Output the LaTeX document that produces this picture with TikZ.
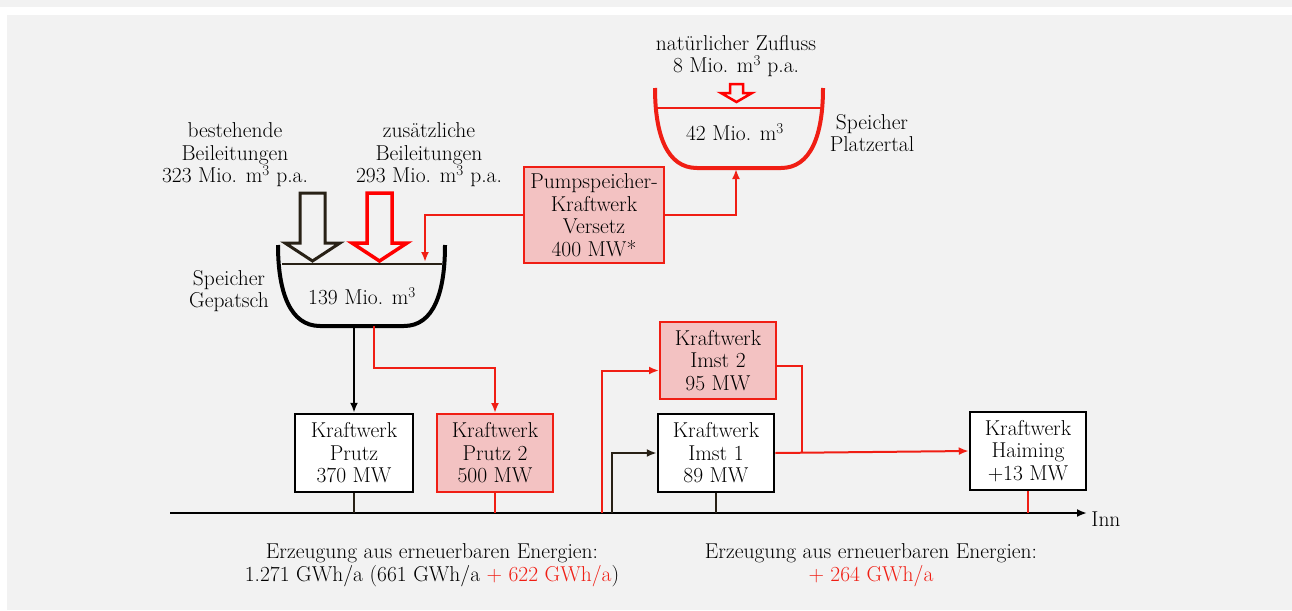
\documentclass[tikz,border=0pt]{standalone}
\usepackage{tikz}
\usetikzlibrary{arrows.meta, positioning}
\definecolor{rot}{RGB}{240,30,20}
\definecolor{rosa}{RGB}{243,194,194}
\definecolor{dunkel}{RGB}{40,33,22}
\definecolor{hgrau}{RGB}{242,242,242}

\begin{document}
\begin{tikzpicture}[x=1pt, y=-1pt, font=\fontsize{21.5}{22.5}\selectfont,
  >={Latex[length=10pt,width=8pt]},
  kw/.style={draw=black, line width=2.5pt, fill=white, align=center,
    minimum width=116pt, minimum height=78pt, inner sep=0pt},
  kwneu/.style={kw, draw=rot, line width=2pt, fill=rosa},
  leitung/.style={line width=2pt}]
% Hintergrund
\useasboundingbox (0,0) rectangle (1292,610);
\fill[hgrau] (0,0) rectangle (1292,610);
\fill[white] (0,7) rectangle (1292,15);
\fill[white] (0,15) rectangle (7,610);

% Speicher Gepatsch
\draw[dunkel, line width=1.8pt] (282,264) -- (442,264);
\draw[line width=4pt] (278,245) .. controls (278,292) and (290,326) .. (320,326)
  -- (404,326) .. controls (434,326) and (445,292) .. (445,245);
\node at (362,296) {139 Mio. m\textsuperscript{3}};
\node[align=center] (gepatsch) at (229,291) {Speicher\\Gepatsch};
\coordinate (gepein) at (425,262);
\coordinate (gepaus) at (374,326);
\coordinate (gepab) at (354,326);

% Beileitungen
\node[align=center] (best) at (235,155) {bestehende\\Beileitungen\\323 Mio. m\textsuperscript{3} p.a.};
\node[align=center] (zus) at (429,155) {zus\"atzliche\\Beileitungen\\293 Mio. m\textsuperscript{3} p.a.};
\draw[dunkel, line width=3pt, line join=miter] (300,193) -- (325,193) -- (325,243) -- (340,243)
  -- (312.5,261) -- (285,243) -- (300,243) -- cycle;
\draw[red, line width=3.5pt, line join=miter] (367,193) -- (392,193) -- (392,243) -- (407,243)
  -- (379.5,261) -- (352,243) -- (367,243) -- cycle;

% Speicher Platzertal
\draw[rot, line width=2pt] (658,108) -- (820,108);
\draw[rot, line width=4pt] (655,88) .. controls (655,135) and (667,168) .. (697,168)
  -- (781,168) .. controls (811,168) and (823,135) .. (823,88);
\node at (735,132) {42 Mio. m\textsuperscript{3}};
\node[align=center] (platz) at (872,133) {Speicher\\Platzertal};
\node[align=center] (zufluss) at (736,56) {nat\"urlicher Zufluss\\8 Mio. m\textsuperscript{3} p.a.};
\draw[red, line width=2.5pt, line join=miter] (730,84) -- (743,84) -- (743,93) -- (752,93)
  -- (736.5,102) -- (721,93) -- (730,93) -- cycle;
\coordinate (platzein) at (736,169);

% Kraftwerke
\node[kwneu, minimum width=140pt, minimum height=96pt] (pss) at (594,215)
  {Pumpspeicher-\\Kraftwerk\\Versetz\\400 MW*};
\node[kw, minimum width=118pt] (prutz) at (354,453) {Kraftwerk\\Prutz\\370 MW};
\node[kwneu] (prutz2) at (495,453) {Kraftwerk\\Prutz 2\\500 MW};
\node[kwneu, minimum height=77pt] (imst2) at (718,360.5) {Kraftwerk\\Imst 2\\95 MW};
\node[kw] (imst1) at (716,453) {Kraftwerk\\Imst 1\\89 MW};
\node[kw] (haiming) at (1028,451) {Kraftwerk\\Haiming\\+13 MW};

% Inn
\coordinate (w) at (170,513);
\coordinate (e) at (1087,513);
\draw[->, line width=2.2pt] (w) -- (e) node[right, yshift=-6pt] {Inn};

% Leitungen
\draw[->, rot, leitung] (pss.west) -| (gepein);
\draw[->, rot, leitung] (pss.east) -| (platzein);
\draw[->, leitung] (gepab) -- (prutz.north);
\draw[->, rot, leitung] (gepaus) -- ++(0,42) -| (prutz2.north);
\coordinate (abzw) at (602,513);
\coordinate (abzw1) at (612,513);
\draw[->, rot, leitung] (abzw) |- ([yshift=-10pt]imst2.west);
\draw[->, dunkel, leitung] (abzw1) |- (imst1.west);
\coordinate (knoten) at (802,453);
\draw[rot, leitung] ([yshift=-5pt]imst2.east) -| (knoten);
\draw[->, rot, leitung] (imst1.east) -- (haiming.west);
\draw[dunkel, leitung] (prutz.south) -- (prutz.south |- w);
\draw[rot, leitung] (prutz2.south) -- (prutz2.south |- w);
\draw[dunkel, leitung] (imst1.south) -- (imst1.south |- w);
\draw[rot, leitung] (haiming.south) -- (haiming.south |- w);

% Erzeugung
\node[align=center] (erz1) at (432,565)
  {Erzeugung aus erneuerbaren Energien:\\1.271 GWh/a (661 GWh/a \textcolor{rot}{+ 622 GWh/a})};
\node[align=center] (erz2) at (871,565)
  {Erzeugung aus erneuerbaren Energien:\\\textcolor{rot}{+ 264 GWh/a}};
\end{tikzpicture}
\end{document}
